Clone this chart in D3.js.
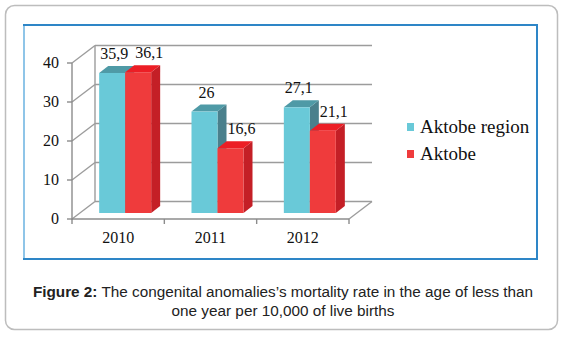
<!DOCTYPE html>
<html>
<head>
<meta charset="utf-8">
<script src="https://cdn.jsdelivr.net/npm/d3@7"></script>
<style>
  body { margin: 0; background: #fff; }
  svg { display: block; }
</style>
</head>
<body>
<script>
var w = 565;
var h = 338;

var years = ["2010", "2011", "2012"];
var series = ["Aktobe region", "Aktobe"];
var regionValues = [35.9, 26, 27.1];
var cityValues = [36.1, 16.6, 21.1];
var valueLabels = [["35,9", "26", "27,1"], ["36,1", "16,6", "21,1"]];
var yTicks = [0, 10, 20, 30, 40];

// face colours per series: front, top, side
var faces = [
  { front: "#69c9d8", top: "#4f9aa6", side: "#4a808c" },
  { front: "#ef3b3c", top: "#ec1e25", side: "#c41f26" }
];

var svg = d3.select("body")
  .append("svg")
  .attr("width", w)
  .attr("height", h);

// outer rounded frame
svg.append("rect")
  .attr("x", 5.5).attr("y", 5.5)
  .attr("width", 552).attr("height", 324)
  .attr("rx", 9)
  .attr("fill", "#fff")
  .attr("stroke", "#bdbdbd")
  .attr("stroke-width", 1.5);

// inner chart box
svg.append("rect")
  .attr("x", 24).attr("y", 25)
  .attr("width", 513).attr("height", 234)
  .attr("fill", "#fff")
  .attr("stroke", "#2e86c7")
  .attr("stroke-width", 2);
svg.append("line")
  .attr("x1", 24).attr("x2", 24)
  .attr("y1", 26).attr("y2", 258)
  .attr("stroke", "#8fc5e8")
  .attr("stroke-width", 2);

// 3D geometry: front plane, back wall offset, bar plane offset
var x0 = 72, x1 = 349;
var DX = 23, DY = -17.5;
var BX = 7, BY = -6;
var depthX = 9, depthY = -7;
var barW = 26;

var y = d3.scaleLinear().domain([0, 40]).range([219, 63]);
var x = d3.scaleBand().domain(years).range([x0, x1]).padding(0);
var xs = d3.scaleBand().domain(series).range([-barW, barW]).padding(0);

var gridColor = "#9c9c9c";
var grid = svg.append("g")
  .attr("stroke", gridColor)
  .attr("stroke-width", 1.4)
  .attr("fill", "none");

// back wall gridlines
grid.selectAll("line.back")
  .data(yTicks)
  .enter()
  .append("line")
  .attr("x1", x0 + DX)
  .attr("x2", x1 + DX)
  .attr("y1", function(d) { return y(d) + DY; })
  .attr("y2", function(d) { return y(d) + DY; });

// side wall diagonals
grid.selectAll("line.side")
  .data(yTicks)
  .enter()
  .append("line")
  .attr("x1", x0)
  .attr("x2", x0 + DX)
  .attr("y1", function(d) { return y(d); })
  .attr("y2", function(d) { return y(d) + DY; });

// back vertical edge of the side wall
grid.append("line")
  .attr("x1", x0 + DX).attr("x2", x0 + DX)
  .attr("y1", y(0) + DY).attr("y2", y(40) + DY);

// floor right edge
grid.append("line")
  .attr("x1", x1).attr("x2", x1 + DX)
  .attr("y1", y(0)).attr("y2", y(0) + DY);

// bars
function barFront(d) {
  return { x: x(d.year) + x.bandwidth() / 2 + BX + xs(d.series), y: y(d.value) + BY };
}

var bars = [];
years.forEach(function(yr, i) {
  bars.push({ year: yr, series: series[0], s: 0, value: regionValues[i], label: valueLabels[0][i] });
  bars.push({ year: yr, series: series[1], s: 1, value: cityValues[i], label: valueLabels[1][i] });
});

var barG = svg.append("g");
bars.forEach(function(d) {
  var f = barFront(d);
  var bottom = y(0) + BY;
  var g = barG.append("g");
  g.append("path")
    .attr("d", "M" + (f.x + barW) + "," + f.y +
      "L" + (f.x + barW + depthX) + "," + (f.y + depthY) +
      "L" + (f.x + barW + depthX) + "," + (bottom + depthY) +
      "L" + (f.x + barW) + "," + bottom + "Z")
    .attr("fill", faces[d.s].side);
  g.append("path")
    .attr("d", "M" + f.x + "," + f.y +
      "L" + (f.x + depthX) + "," + (f.y + depthY) +
      "L" + (f.x + barW + depthX) + "," + (f.y + depthY) +
      "L" + (f.x + barW) + "," + f.y + "Z")
    .attr("fill", faces[d.s].top);
  g.append("rect")
    .attr("x", f.x)
    .attr("y", f.y)
    .attr("width", barW)
    .attr("height", bottom - f.y)
    .attr("fill", faces[d.s].front);
});

// front axes
var axisG = svg.append("g")
  .attr("stroke", "#8c8c8c")
  .attr("stroke-width", 1.4);
axisG.append("line")
  .attr("x1", x0).attr("x2", x0)
  .attr("y1", y(0) + 1).attr("y2", y(40));
axisG.append("line")
  .attr("x1", x0).attr("x2", x1)
  .attr("y1", y(0)).attr("y2", y(0));
axisG.selectAll("line.ytick")
  .data(yTicks)
  .enter()
  .append("line")
  .attr("x1", x0 - 5).attr("x2", x0)
  .attr("y1", function(d) { return y(d); })
  .attr("y2", function(d) { return y(d); });
axisG.selectAll("line.xtick")
  .data([x0].concat(years.map(function(d) { return x(d) + x.bandwidth(); })))
  .enter()
  .append("line")
  .attr("x1", function(d) { return d; })
  .attr("x2", function(d) { return d; })
  .attr("y1", y(0)).attr("y2", y(0) + 5);

var serif = "'Liberation Serif', 'Times New Roman', serif";

svg.selectAll("text.ytick")
  .data(yTicks)
  .enter()
  .append("text")
  .text(function(d) { return d; })
  .attr("x", x0 - 13)
  .attr("y", function(d) { return y(d) + 5; })
  .attr("text-anchor", "end")
  .attr("font-family", serif)
  .attr("font-size", "16px")
  .attr("fill", "#111");

svg.selectAll("text.year")
  .data(years)
  .enter()
  .append("text")
  .text(function(d) { return d; })
  .attr("x", function(d) { return x(d) + x.bandwidth() / 2; })
  .attr("y", 243)
  .attr("text-anchor", "middle")
  .attr("font-family", serif)
  .attr("font-size", "16px")
  .attr("fill", "#111");

// value labels above each bar
var labelShift = [2, 11];
svg.selectAll("text.value")
  .data(bars)
  .enter()
  .append("text")
  .text(function(d) { return d.label; })
  .attr("x", function(d) { return barFront(d).x + barW / 2 + labelShift[d.s]; })
  .attr("y", function(d) { return barFront(d).y - 14; })
  .attr("text-anchor", "middle")
  .attr("font-family", serif)
  .attr("font-size", "16px")
  .attr("fill", "#111");

// legend
var legend = svg.selectAll("g.legend")
  .data(series)
  .enter()
  .append("g")
  .attr("transform", function(d, i) { return "translate(407," + (123 + i * 27) + ")"; });
legend.append("rect")
  .attr("width", 7).attr("height", 8)
  .attr("fill", function(d, i) { return faces[i].front; });
legend.append("text")
  .text(function(d) { return d; })
  .attr("x", 13)
  .attr("y", 10)
  .attr("font-family", serif)
  .attr("font-size", "19px")
  .attr("fill", "#111");

// caption
var cap = svg.append("text")
  .attr("text-anchor", "middle")
  .attr("font-family", "'Liberation Sans', Arial, sans-serif")
  .attr("font-size", "15.3px")
  .attr("fill", "#222");
var l1 = cap.append("tspan").attr("x", 283).attr("y", 297);
l1.append("tspan").attr("font-weight", "bold").text("Figure 2:");
l1.append("tspan").text(" The congenital anomalies\u2019s mortality rate in the age of less than");
cap.append("tspan").attr("x", 283).attr("y", 316).text("one year per 10,000 of live births");
</script>
</body>
</html>
